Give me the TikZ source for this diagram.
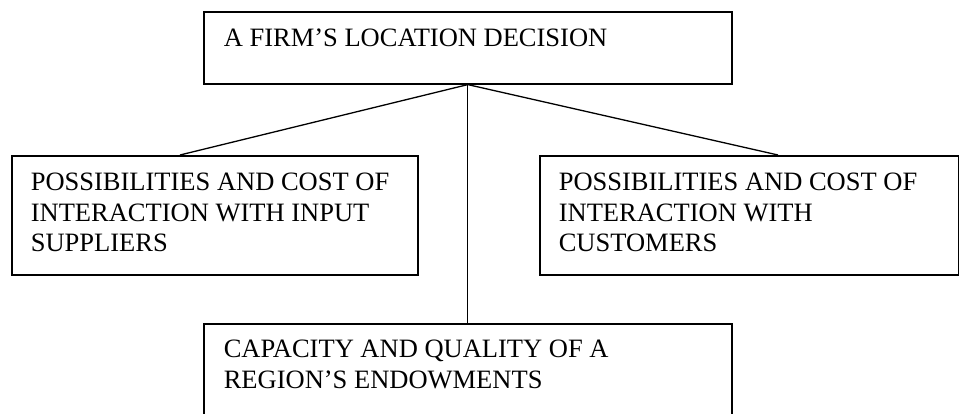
\documentclass[tikz,border=0pt]{standalone}
\usepackage{fontspec}
\setmainfont{Liberation Serif}
\begin{document}
\begin{tikzpicture}[x=1pt, y=-1pt, line width=1.6pt,
    every node/.style={inner sep=0pt},
    box/.style={draw, anchor=north west},
    boxtext/.style={anchor=north west, align=left,
      font=\fontsize{26.5}{30.7}\selectfont}]
  \useasboundingbox (0,0) rectangle (959,414);

  % Boxes
  \node[box, minimum width=528, minimum height=72] (firm) at (203,11) {};
  \node[box, minimum width=406, minimum height=119] (suppliers) at (11,155) {};
  \node[box, minimum width=419, minimum height=119] (customers) at (539,155) {};
  \node[box, minimum width=528, minimum height=95] (endow) at (203,323) {};

  % Box texts
  \node[boxtext] (firmtext) at ([shift={(20,17)}]firm.north west)
    {A FIRM’S LOCATION DECISION};
  \node[boxtext] (supptext) at ([shift={(19,17)}]suppliers.north west)
    {POSSIBILITIES AND COST OF\\INTERACTION WITH INPUT\\SUPPLIERS};
  \node[boxtext] (custtext) at ([shift={(19,17)}]customers.north west)
    {POSSIBILITIES AND COST OF\\INTERACTION WITH\\CUSTOMERS};
  \node[boxtext] (endowtext) at ([shift={(20,16)}]endow.north west)
    {CAPACITY AND QUALITY OF A\\REGION’S ENDOWMENTS};

  % Connectors
  \draw[line width=1.3pt] (firm.south) -- ([xshift=169pt]suppliers.north west);
  \draw[line width=1.3pt] (firm.south) -- ([xshift=239pt]customers.north west);
  \draw[line width=1.3pt] (firm.south) -- (endow.north);
\end{tikzpicture}
\end{document}
